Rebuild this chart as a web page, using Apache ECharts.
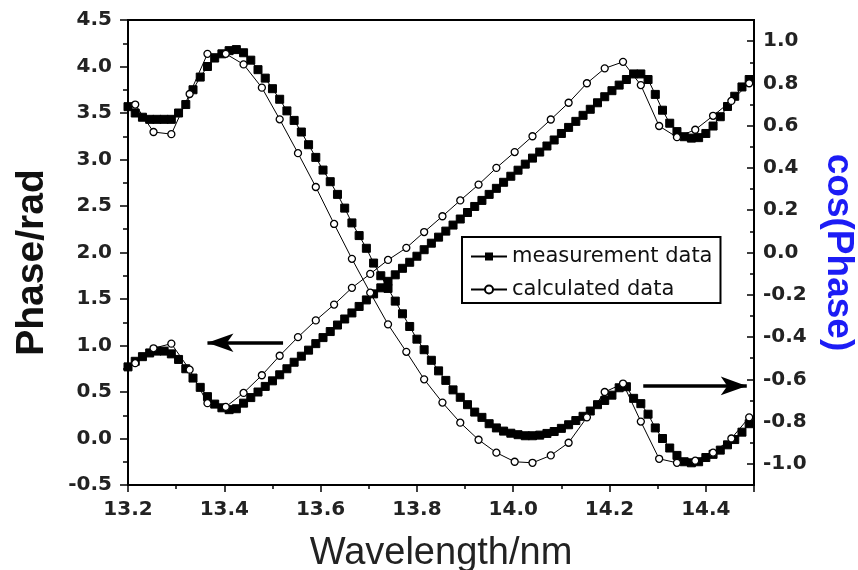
<!DOCTYPE html>
<html>
<head>
<meta charset="utf-8">
<script src="https://cdn.jsdelivr.net/npm/echarts@6/dist/echarts.min.js"></script>
<style>
  html, body { margin: 0; padding: 0; background: #fff; }
  #chart { width: 858px; height: 570px; }
</style>
</head>
<body>
<div id="chart"></div>
<script>
// Measured wavelengths (nm)
const wlMeas = [13.2,13.215,13.23,13.245,13.26,13.275,13.29,13.305,13.32,13.335,
  13.35,13.365,13.38,13.395,13.41,13.425,13.44,13.455,13.47,13.485,
  13.5,13.515,13.53,13.545,13.56,13.575,13.59,13.605,13.62,13.635,
  13.65,13.665,13.68,13.695,13.71,13.725,13.74,13.755,13.77,13.785,
  13.8,13.815,13.83,13.845,13.86,13.875,13.89,13.905,13.92,13.935,
  13.95,13.965,13.98,13.995,14.01,14.025,14.04,14.055,14.07,14.085,
  14.1,14.115,14.13,14.145,14.16,14.175,14.19,14.205,14.22,14.235,
  14.25,14.265,14.28,14.295,14.31,14.325,14.34,14.355,14.37,14.385,
  14.4,14.415,14.43,14.445,14.46,14.475,14.49];

// Measured phase (rad)
const phaseMeas = [0.77,0.83,0.88,0.92,0.94,0.94,0.91,0.85,0.75,0.65,
  0.55,0.45,0.37,0.33,0.31,0.32,0.38,0.44,0.50,0.56,
  0.62,0.685,0.75,0.82,0.885,0.95,1.02,1.085,1.15,1.22,
  1.285,1.35,1.42,1.49,1.555,1.62,1.69,1.76,1.83,1.895,
  1.96,2.03,2.10,2.165,2.23,2.295,2.36,2.43,2.495,2.56,
  2.625,2.69,2.755,2.82,2.885,2.95,3.015,3.08,3.145,3.21,
  3.28,3.345,3.41,3.475,3.54,3.61,3.675,3.74,3.80,3.86,
  3.92,3.92,3.86,3.70,3.53,3.39,3.30,3.245,3.23,3.235,
  3.28,3.36,3.46,3.57,3.68,3.78,3.86];

// Measured cos(phase)
const cosMeas = [0.69,0.66,0.64,0.63,0.63,0.63,0.63,0.66,0.70,0.77,
  0.83,0.88,0.92,0.94,0.955,0.96,0.945,0.91,0.865,0.825,
  0.775,0.725,0.67,0.625,0.57,0.51,0.45,0.39,0.335,0.275,
  0.21,0.14,0.08,0.02,-0.05,-0.11,-0.17,-0.23,-0.29,-0.35,
  -0.41,-0.46,-0.51,-0.56,-0.605,-0.65,-0.685,-0.72,-0.755,-0.78,
  -0.81,-0.83,-0.845,-0.855,-0.862,-0.867,-0.867,-0.864,-0.856,-0.847,
  -0.832,-0.815,-0.795,-0.775,-0.75,-0.72,-0.70,-0.675,-0.64,-0.635,
  -0.69,-0.715,-0.765,-0.83,-0.88,-0.925,-0.96,-0.99,-0.995,-0.99,
  -0.97,-0.955,-0.935,-0.91,-0.885,-0.85,-0.81];

// Calculated wavelengths (nm)
const wlCalc = [13.215,13.253,13.29,13.328,13.365,13.403,13.44,13.478,13.515,13.553,
  13.59,13.628,13.665,13.703,13.74,13.778,13.815,13.853,13.89,13.928,
  13.965,14.003,14.04,14.078,14.115,14.153,14.19,14.228,14.265,14.303,
  14.34,14.378,14.415,14.453,14.49];

// Calculated phase (rad)
const phaseCalc = [0.81,0.97,1.02,0.74,0.38,0.34,0.49,0.68,0.89,1.09,
  1.27,1.44,1.62,1.77,1.92,2.05,2.22,2.39,2.56,2.73,
  2.91,3.08,3.25,3.43,3.61,3.82,3.98,4.05,3.80,3.36,
  3.24,3.32,3.47,3.63,3.82];

// Calculated cos(phase)
const cosCalc = [0.70,0.57,0.56,0.75,0.94,0.94,0.89,0.78,0.63,0.47,
  0.31,0.135,-0.03,-0.19,-0.34,-0.47,-0.60,-0.71,-0.805,-0.886,
  -0.947,-0.99,-0.995,-0.96,-0.90,-0.78,-0.66,-0.62,-0.80,-0.976,
  -0.995,-0.985,-0.947,-0.88,-0.78];

// Tick values of the right axis
const cosTicks = [-1.0,-0.8,-0.6,-0.4,-0.2,0.0,0.2,0.4,0.6,0.8,1.0];

// Arrows pointing at the axis each curve belongs to: [x0, x1 (tip), y on left axis]
const arrowLeft = [13.522, 13.365, 1.03];
const arrowRight = [14.27, 14.485, 0.565];

const pairs = (xs, ys) => xs.map((x, i) => [x, ys[i]]);

const tickFont = { fontFamily: 'DejaVu Sans', fontSize: 20, fontWeight: 'bold', color: '#222' };
const fmt1 = v => v.toFixed(1);

const chart = echarts.init(document.getElementById('chart'), null, { renderer: 'canvas' });

const measStyle = {
  type: 'line', symbol: 'rect', symbolSize: 8, showSymbol: true,
  lineStyle: { color: '#000', width: 1 },
  itemStyle: { color: '#000', borderColor: '#000' },
  z: 2
};
const calcStyle = {
  type: 'line', symbol: 'circle', symbolSize: 7, showSymbol: true,
  lineStyle: { color: '#000', width: 1 },
  itemStyle: { color: '#fff', borderColor: '#000', borderWidth: 1.3 },
  z: 3
};

chart.setOption({
  animation: false,
  backgroundColor: '#fff',
  grid: {
    left: 128, right: 104, top: 20, bottom: 85,
    outerBoundsMode: 'none',
    show: true, borderColor: '#000', borderWidth: 2, backgroundColor: 'transparent'
  },
  legend: {
    orient: 'vertical', left: 462, top: 237,
    data: ['measurement data', 'calculated data'],
    itemWidth: 36, itemHeight: 10, itemGap: 12,
    padding: [9, 8, 3, 8],
    borderColor: '#000', borderWidth: 2, backgroundColor: '#fff',
    selectedMode: false,
    textStyle: { fontFamily: 'DejaVu Sans', fontSize: 21, color: '#111' }
  },
  xAxis: {
    type: 'value', min: 13.2, max: 14.5, interval: 0.2,
    name: 'Wavelength/nm', nameLocation: 'middle', nameGap: 50,
    nameTextStyle: { fontFamily: 'Liberation Sans', fontSize: 38, color: '#222' },
    axisLine: { show: true, onZero: false, lineStyle: { color: '#000', width: 2 } },
    axisTick: { show: true, length: 7, lineStyle: { color: '#000', width: 1.5 } },
    minorTick: { show: true, splitNumber: 2, length: 4, lineStyle: { color: '#000', width: 1.5 } },
    axisLabel: Object.assign({ margin: 15, formatter: fmt1, showMaxLabel: false }, tickFont),
    splitLine: { show: false }
  },
  yAxis: [
    {
      type: 'value', min: -0.5, max: 4.5, interval: 0.5, position: 'left',
      name: 'Phase/rad', nameLocation: 'middle', nameGap: 76, nameRotate: 90,
      nameTextStyle: { fontFamily: 'Liberation Sans', fontSize: 39, fontWeight: 'bold', color: '#111', padding: [0, 20, 0, 0] },
      axisLine: { show: true, onZero: false, lineStyle: { color: '#000', width: 2 } },
      axisTick: { show: true, length: 8, lineStyle: { color: '#000', width: 1.5 } },
      minorTick: { show: true, splitNumber: 2, length: 5, lineStyle: { color: '#000', width: 1.5 } },
      axisLabel: Object.assign({ margin: 16, formatter: fmt1 }, tickFont),
      splitLine: { show: false }
    },
    {
      type: 'value', min: -1.1, max: 1.1, position: 'right',
      name: 'cos(Phase)', nameLocation: 'middle', nameGap: 66, nameRotate: -90,
      nameTextStyle: { fontFamily: 'Liberation Sans', fontSize: 37, fontWeight: 'bold', color: '#1c1cf5' },
      axisLine: { show: true, onZero: false, lineStyle: { color: '#000', width: 2 } },
      axisTick: { show: true, inside: true, length: 7, customValues: cosTicks, lineStyle: { color: '#000', width: 1.5 } },
      axisLabel: Object.assign({ margin: 9, formatter: fmt1, customValues: cosTicks }, tickFont),
      splitLine: { show: false }
    },
    {
      // minor ticks of the right axis, every 0.1
      type: 'value', min: -1.1, max: 1.1, interval: 0.1, position: 'right',
      axisLine: { show: false, onZero: false },
      axisTick: { show: true, inside: true, length: 4, lineStyle: { color: '#000', width: 1.5 } },
      axisLabel: { show: false },
      splitLine: { show: false }
    }
  ],
  series: [
    Object.assign({}, measStyle, {
      name: 'measurement data', yAxisIndex: 0, data: pairs(wlMeas, phaseMeas),
      markLine: {
        silent: true, animation: false,
        symbol: ['none', 'arrow'],
        label: { show: false },
        lineStyle: { color: '#000', width: 3.5, type: 'solid' },
        data: [
          [{ coord: [arrowLeft[0], arrowLeft[2]], symbol: 'none' },
           { coord: [arrowLeft[1], arrowLeft[2]], symbol: 'arrow', symbolSize: [14, 26] }],
          [{ coord: [arrowRight[0], arrowRight[2]], symbol: 'none' },
           { coord: [arrowRight[1], arrowRight[2]], symbol: 'arrow', symbolSize: [14, 26] }]
        ]
      }
    }),
    Object.assign({}, measStyle, { name: 'measurement data', yAxisIndex: 1, data: pairs(wlMeas, cosMeas) }),
    Object.assign({}, calcStyle, { name: 'calculated data', yAxisIndex: 0, data: pairs(wlCalc, phaseCalc) }),
    Object.assign({}, calcStyle, { name: 'calculated data', yAxisIndex: 1, data: pairs(wlCalc, cosCalc) })
  ]
});
</script>
</body>
</html>
